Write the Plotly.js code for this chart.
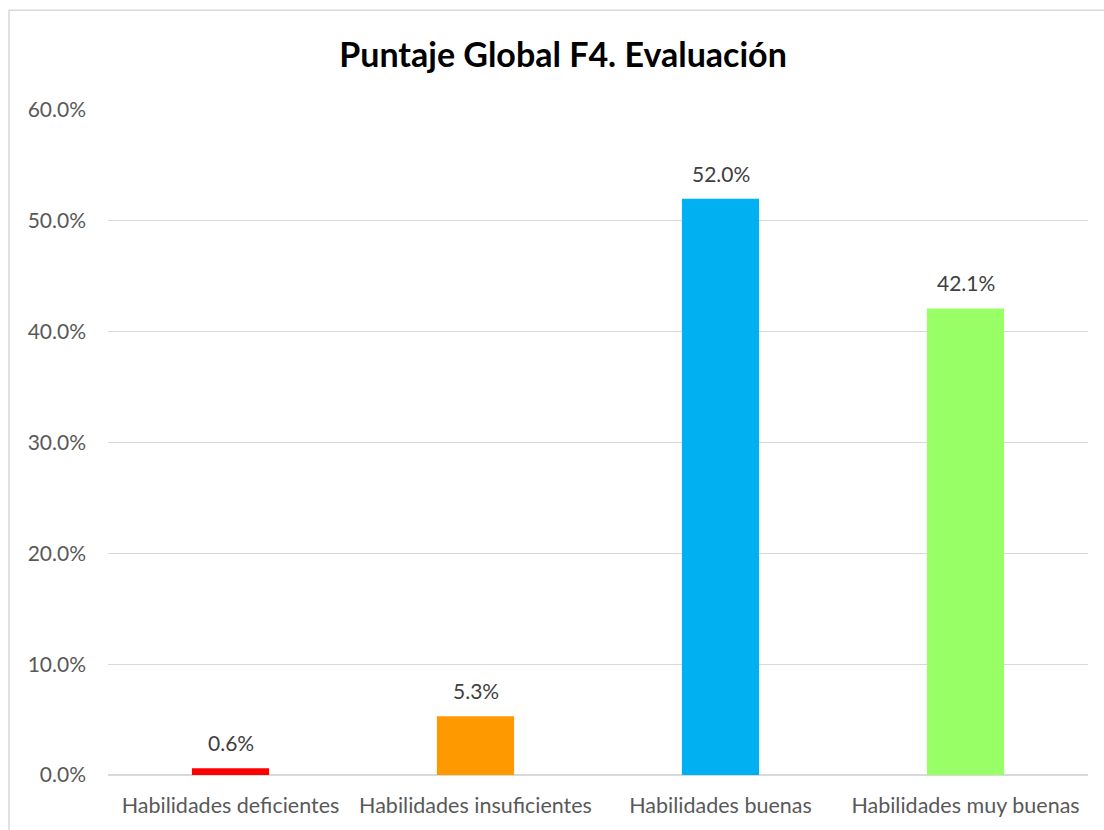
<!DOCTYPE html>
<html>
<head>
<meta charset="utf-8">
<script src="https://cdn.plot.ly/plotly-3.0.1.min.js"></script>
<style>html,body{margin:0;padding:0;background:#fff;}#chart{width:1104px;height:830px;}</style>
</head>
<body>
<div id="chart"></div>
<script>
const categories = ["Habilidades deficientes", "Habilidades insuficientes", "Habilidades buenas", "Habilidades muy buenas"];
const values = [0.006, 0.053, 0.520, 0.421];
const labels = ["0.6%", "5.3%", "52.0%", "42.1%"];
const colors = ["#FF0000", "#FF9900", "#00B0F0", "#99FF66"];
const yTicks = [0, 0.1, 0.2, 0.3, 0.4, 0.5, 0.6];
const yTickText = ["0.0%", "10.0%", "20.0%", "30.0%", "40.0%", "50.0%", "60.0%"];

const font = "Lato, 'Open Sans', sans-serif";

const trace = {
  type: "bar",
  x: categories,
  y: values,
  marker: {color: colors},
  width: 0.315,
  hoverinfo: "skip"
};

const annotations = categories.map((c, i) => ({
  x: c, y: values[i], xref: "x", yref: "y",
  text: labels[i], showarrow: false, yanchor: "bottom", yshift: 11,
  font: {family: font, size: 21, color: "#404040"}
}));

const layout = {
  width: 1104, height: 830,
  margin: {l: 108, r: 16, t: 110, b: 55},
  paper_bgcolor: "#fff", plot_bgcolor: "#fff",
  title: {text: "<b>Puntaje Global F4. Evaluación</b>", x: 0.51, xref: "container", y: 0.948, yref: "container",
          font: {family: font, size: 34, color: "#000"}},
  xaxis: {showgrid: false, showline: false, zeroline: false, ticks: "",
          tickfont: {family: font, size: 21.5, color: "#595959"}, ticklabelstandoff: 15},
  yaxis: {range: [0, 0.6], tickvals: yTicks, ticktext: yTickText, showgrid: true, gridcolor: "#D9D9D9", gridwidth: 1.3,
          zeroline: true, zerolinecolor: "#D9D9D9", zerolinewidth: 1.3, showline: false, ticks: "",
          tickfont: {family: font, size: 21, color: "#595959"}, ticklabelstandoff: 21},
  annotations: annotations,
  shapes: [{type: "rect", xref: "paper", yref: "paper", x0: -0.101, x1: 1.1, y0: -0.2, y1: 1.15,
            line: {color: "#D9D9D9", width: 1.5}, fillcolor: "rgba(0,0,0,0)", layer: "below"}],
  showlegend: false,
  bargap: 0.685
};

Plotly.newPlot("chart", [trace], layout, {displayModeBar: false, staticPlot: true});
</script>
</body>
</html>
